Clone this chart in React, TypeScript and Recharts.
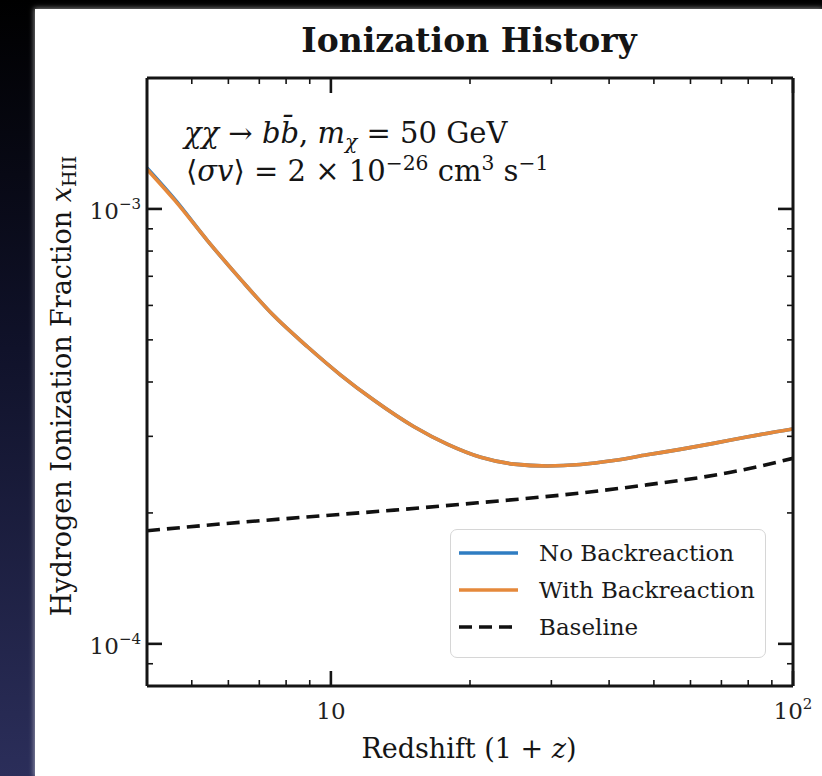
import React from "react";
import { LineChart, Line, XAxis, YAxis, Legend } from "recharts";

// redshift (1+z) sampled along the dark matter curves
const curveZ = [4.0, 4.6, 5.4, 6.4, 7.5, 8.9, 10.5, 12.4, 15.1, 17.9, 21.1, 24.9, 29.4, 34.7, 40.9, 48.3, 57, 67.3, 79.4, 100];
const noBackreaction = [1.242e-3, 1.05e-3, 8.47e-4, 6.86e-4, 5.7e-4, 4.82e-4, 4.15e-4, 3.63e-4, 3.16e-4, 2.875e-4, 2.685e-4, 2.59e-4, 2.565e-4, 2.585e-4, 2.64e-4, 2.72e-4, 2.8e-4, 2.89e-4, 2.99e-4, 3.12e-4];
const withBackreaction = [1.234e-3, 1.045e-3, 8.47e-4, 6.86e-4, 5.7e-4, 4.82e-4, 4.15e-4, 3.63e-4, 3.16e-4, 2.875e-4, 2.685e-4, 2.59e-4, 2.565e-4, 2.585e-4, 2.64e-4, 2.72e-4, 2.8e-4, 2.89e-4, 2.99e-4, 3.12e-4];

// standard ionization history without dark matter
const baseZ = [4.0, 5.9, 9.0, 13.7, 20.8, 31.7, 48.2, 73.3, 100];
const baseline = [1.82e-4, 1.89e-4, 1.96e-4, 2.03e-4, 2.11e-4, 2.2e-4, 2.32e-4, 2.48e-4, 2.67e-4];

const seriesNames = ["No Backreaction", "With Backreaction", "Baseline"];

const xTicks = [4, 5, 6, 7, 8, 9, 10, 20, 30, 40, 50, 60, 70, 80, 90, 100];
const yTicks = [8e-5, 9e-5, 1e-4, 2e-4, 3e-4, 4e-4, 5e-4, 6e-4, 7e-4, 8e-4, 9e-4, 1e-3, 2e-3];

const BLUE = "#2f7dc2";
const ORANGE = "#e5893b";
const INK = "#151515";
const SERIF = '"DejaVu Serif", serif';
const DASH = "13 7";

const toRows = (xs: number[], ys: number[]) => xs.map((x, i) => ({ x, y: ys[i] }));

const isMajor = (v: number) => {
  const l = Math.log10(v);
  return Math.abs(l - Math.round(l)) < 1e-6;
};
const expo = (v: number) => Math.round(Math.log10(v));

function PowLabel({ e }: { e: number }) {
  if (e === 1) return <>10</>;
  const s = e < 0 ? "\u2212" + Math.abs(e) : String(e);
  return (
    <>
      10
      <tspan dy={-10} fontSize={15}>{s}</tspan>
    </>
  );
}

function XTick(props: any) {
  const { x, y, payload, side } = props;
  const major = isMajor(payload.value);
  const len = major ? 15 : 6;
  const dir = side === "bottom" ? -1 : 1;
  return (
    <g>
      <line x1={x} y1={y} x2={x} y2={y + dir * len} stroke={INK} strokeWidth={major ? 2.6 : 1.6} />
      {side === "bottom" && major && (
        <text x={x} y={y + 33} textAnchor="middle" fontSize={23} fill="#222" fontFamily={SERIF}>
          <PowLabel e={expo(payload.value)} />
        </text>
      )}
    </g>
  );
}

function YTick(props: any) {
  const { x, y, payload, side } = props;
  const major = isMajor(payload.value);
  const len = major ? 15 : 6;
  const dir = side === "left" ? 1 : -1;
  return (
    <g>
      <line x1={x} y1={y} x2={x + dir * len} y2={y} stroke={INK} strokeWidth={major ? 2.6 : 1.6} />
      {side === "left" && major && (
        <text x={x - 6} y={y + 10} textAnchor="end" fontSize={23} fill="#222" fontFamily={SERIF}>
          <PowLabel e={expo(payload.value)} />
        </text>
      )}
    </g>
  );
}

const dashed: Record<string, string | undefined> = { Baseline: DASH };

function LegendBox(props: any) {
  const items = [...(props.payload || [])].sort(
    (a: any, b: any) => seriesNames.indexOf(a.value) - seriesNames.indexOf(b.value)
  );
  return (
    <div
      style={{
        width: "100%",
        height: "100%",
        boxSizing: "border-box",
        border: "1.5px solid #d6d6d6",
        borderRadius: 7,
        background: "rgba(255,255,255,0.85)",
        padding: "4px 0 0 8px",
        fontFamily: SERIF,
      }}
    >
      {items.map((it: any) => (
        <div key={it.value} style={{ display: "flex", alignItems: "center", height: 37 }}>
          <svg width={60} height={10}>
            <line x1={0} y1={5} x2={59} y2={5} stroke={it.color} strokeWidth={3.6} strokeDasharray={dashed[it.value]} />
          </svg>
          <span style={{ marginLeft: 20, fontSize: 23, color: "#1a1a1a" }}>{it.value}</span>
        </div>
      ))}
    </div>
  );
}

const Sub = ({ children }: any) => (
  <span style={{ fontSize: "0.7em", verticalAlign: "-0.3em", lineHeight: 0 }}>{children}</span>
);
const Sup = ({ children }: any) => (
  <span style={{ fontSize: "0.7em", verticalAlign: "0.55em", lineHeight: 0 }}>{children}</span>
);

export default function App() {
  const text: React.CSSProperties = {
    position: "absolute",
    fontFamily: SERIF,
    color: INK,
    lineHeight: 1,
    whiteSpace: "nowrap",
  };
  return (
    <div
      style={{
        position: "absolute",
        left: 0,
        top: 0,
        width: 822,
        height: 776,
        overflow: "hidden",
        background: "linear-gradient(180deg, #000 0%, #10122a 45%, #2b2e5a 100%)",
      }}
    >
      <div
        style={{
          position: "absolute",
          left: 35,
          top: 9,
          right: 0,
          bottom: 0,
          background: "#fff",
          boxShadow: "0 0 5px 1px rgba(255,255,255,0.5)",
        }}
      />
      <div style={{ position: "absolute", left: 0, top: 0 }}>
        <LineChart width={822} height={776} margin={{ top: 77, left: 146, right: 28, bottom: 89 }}>
          <XAxis
            xAxisId="b"
            orientation="bottom"
            type="number"
            dataKey="x"
            scale="log"
            domain={[4, 100]}
            allowDataOverflow
            ticks={xTicks}
            interval={0}
            height={1}
            tickSize={0}
            tickMargin={0}
            tickLine={false}
            axisLine={{ stroke: INK, strokeWidth: 3 }}
            tick={(p: any) => <XTick {...p} side="bottom" />}
          />
          <XAxis
            xAxisId="t"
            orientation="top"
            type="number"
            dataKey="x"
            scale="log"
            domain={[4, 100]}
            allowDataOverflow
            ticks={xTicks}
            interval={0}
            height={1}
            tickSize={0}
            tickMargin={0}
            tickLine={false}
            axisLine={{ stroke: INK, strokeWidth: 3 }}
            tick={(p: any) => <XTick {...p} side="top" />}
          />
          <YAxis
            yAxisId="l"
            orientation="left"
            type="number"
            scale="log"
            domain={[8e-5, 2e-3]}
            allowDataOverflow
            ticks={yTicks}
            interval={0}
            width={1}
            tickSize={0}
            tickMargin={0}
            tickLine={false}
            axisLine={{ stroke: INK, strokeWidth: 3 }}
            tick={(p: any) => <YTick {...p} side="left" />}
          />
          <YAxis
            yAxisId="r"
            orientation="right"
            type="number"
            scale="log"
            domain={[8e-5, 2e-3]}
            allowDataOverflow
            ticks={yTicks}
            interval={0}
            width={1}
            tickSize={0}
            tickMargin={0}
            tickLine={false}
            axisLine={{ stroke: INK, strokeWidth: 3 }}
            tick={(p: any) => <YTick {...p} side="right" />}
          />
          <Legend
            layout="vertical"
            align="center"
            verticalAlign="middle"
            content={<LegendBox />}
            wrapperStyle={{ position: "absolute", left: 450, top: 529, width: 316, height: 129 }}
          />
          <Line
            name="No Backreaction"
            data={toRows(curveZ, noBackreaction)}
            dataKey="y"
            xAxisId="b"
            yAxisId="l"
            type="monotone"
            stroke={BLUE}
            strokeWidth={3.6}
            dot={false}
            isAnimationActive={false}
          />
          <Line
            name="With Backreaction"
            data={toRows(curveZ, withBackreaction)}
            dataKey="y"
            xAxisId="b"
            yAxisId="l"
            type="monotone"
            stroke={ORANGE}
            strokeWidth={3.6}
            dot={false}
            isAnimationActive={false}
          />
          <Line
            name="Baseline"
            data={toRows(baseZ, baseline)}
            dataKey="y"
            xAxisId="b"
            yAxisId="l"
            type="monotone"
            stroke="#111"
            strokeWidth={3.6}
            strokeDasharray={DASH}
            dot={false}
            isAnimationActive={false}
          />
        </LineChart>
      </div>

      <div style={{ ...text, left: 469, top: 24, fontSize: 33, fontWeight: "bold", transform: "translateX(-50%)" }}>
        Ionization History
      </div>
      <div style={{ ...text, left: 469, top: 735, fontSize: 27, transform: "translateX(-50%)" }}>
        Redshift (1 + <i>z</i>)
      </div>
      <div
        style={{
          ...text,
          left: 61,
          top: 386,
          fontSize: 27,
          transform: "translate(-50%, -50%) rotate(-90deg)",
        }}
      >
        Hydrogen Ionization Fraction <i>x</i>
        <Sub>HII</Sub>
      </div>
      <div style={{ ...text, left: 184, top: 119, fontSize: 29 }}>
        <i>χχ</i> → <i>b</i>
        <i>b&#772;</i>, <i>m</i>
        <Sub>
          <i>χ</i>
        </Sub>{" "}
        = 50 GeV
      </div>
      <div style={{ ...text, left: 186, top: 157, fontSize: 29 }}>
        ⟨<i>σv</i>⟩ = 2 × 10<Sup>−26</Sup> cm<Sup>3</Sup> s<Sup>−1</Sup>
      </div>
    </div>
  );
}
